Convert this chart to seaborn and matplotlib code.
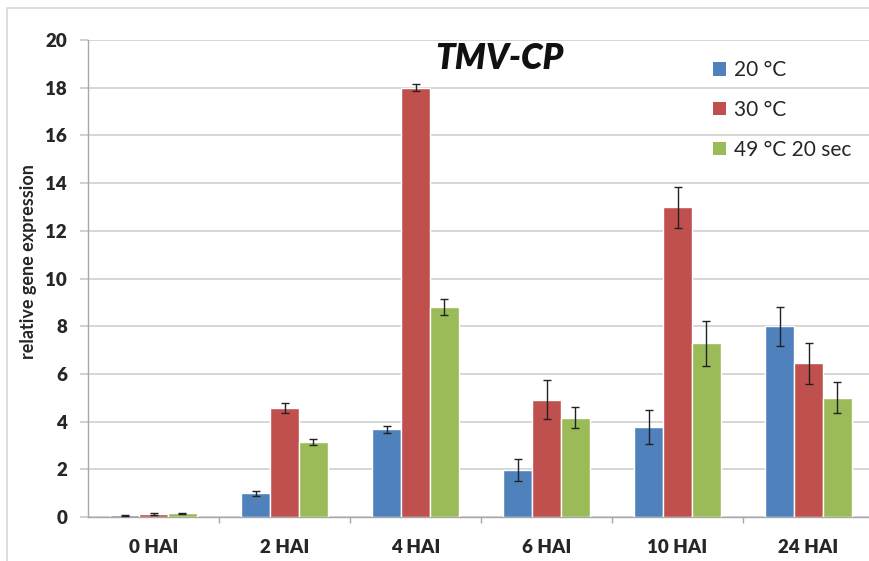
import matplotlib
matplotlib.use("Agg")
import matplotlib.pyplot as plt
import seaborn as sns
import pandas as pd
import numpy as np
from matplotlib.patches import Rectangle, Patch

categories = ["0 HAI", "2 HAI", "4 HAI", "6 HAI", "10 HAI", "24 HAI"]
series = ["20 °C", "30 °C", "49 °C 20 sec"]
vals_20 = [0.07, 1.0, 3.68, 1.97, 3.79, 8.0]
vals_30 = [0.12, 4.58, 18.0, 4.91, 12.98, 6.44]
vals_49 = [0.15, 3.16, 8.8, 4.17, 7.28, 5.01]
err_20 = [0.02, 0.1, 0.14, 0.46, 0.71, 0.82]
err_30 = [0.03, 0.22, 0.15, 0.82, 0.85, 0.87]
err_49 = [0.02, 0.13, 0.35, 0.43, 0.95, 0.63]
colors = ["#4F81BD", "#C0504D", "#9BBB59"]

rows = []
for s, v, e in zip(series, [vals_20, vals_30, vals_49], [err_20, err_30, err_49]):
    for c, vi, ei in zip(categories, v, e):
        rows.append({"time": c, "series": s, "value": vi, "err": ei})
df = pd.DataFrame(rows)

sns.set_theme(style="white")
plt.rcParams["font.family"] = ["Lato", "DejaVu Sans"]

fig = plt.figure(figsize=(8.69, 5.61), dpi=100)
ax = fig.add_axes([88/869, 44/561, 786/869, 477/561])

sns.barplot(data=df, x="time", y="value", hue="series", order=categories,
            hue_order=series, palette=colors, width=0.66, gap=0,
            saturation=1, errorbar=None, ax=ax, legend=False, zorder=3)

for cont, s in zip(ax.containers, series):
    sub = df[df["series"] == s].set_index("time").loc[categories]
    xs = [p.get_x() + p.get_width() / 2 for p in cont.patches]
    ax.errorbar(xs, sub["value"].values, yerr=sub["err"].values, fmt="none",
                ecolor="#222222", elinewidth=1.0, capsize=3, capthick=1.0, zorder=4)

ax.set_ylim(0, 20)
ax.set_xlim(-0.5, 5.5)
ax.set_yticks(np.arange(0, 21, 2))
ax.yaxis.grid(True, color="#d0d0d0", linewidth=1.2, zorder=0)
ax.set_axisbelow(True)
for sp in ["top", "right"]:
    ax.spines[sp].set_visible(False)
for sp in ["left", "bottom"]:
    ax.spines[sp].set_color("#a8a8a8")
    ax.spines[sp].set_linewidth(1.0)

W = 800
ax.tick_params(axis="y", which="major", length=6, color="#c8c8c8", width=1.2,
               pad=9, labelsize=13.5, direction="out", left=True)
for t in ax.get_yticklabels():
    t.set_fontweight(W)
ax.set_xticks(np.arange(0.5, 5.5, 1), minor=True)
ax.tick_params(axis="x", which="minor", length=4, color="#a8a8a8", width=1.0,
               direction="out", bottom=True)
ax.tick_params(axis="x", which="major", length=0, pad=16, labelsize=13.5)
for t in ax.get_xticklabels():
    t.set_fontweight(W)

ax.set_xlabel("")
ax.set_ylabel("relative gene expression", fontsize=13, fontweight="bold")
ax.yaxis.set_label_coords(-0.065, 0.535)

ax.text(0.523, 0.961, "TMV-CP", transform=ax.transAxes, ha="center", va="center",
        fontsize=25, fontweight=W, fontstyle="italic", color="#111111")

handles = [Patch(facecolor=c, edgecolor="none") for c in colors]
leg = ax.legend(handles, series, loc="upper left", bbox_to_anchor=(703/869, 1 - 50/561),
                bbox_transform=fig.transFigure, frameon=False, fontsize=15,
                handlelength=0.6, handleheight=0.6, handletextpad=0.4,
                labelspacing=0.95, borderpad=0)

fig.patches.append(Rectangle((7/869, -0.05), 1.2, 1 - 8/561 + 0.05, transform=fig.transFigure,
                             fill=False, edgecolor="#d8d8d8", linewidth=1.2))

fig.savefig("out.png", dpi=100)
